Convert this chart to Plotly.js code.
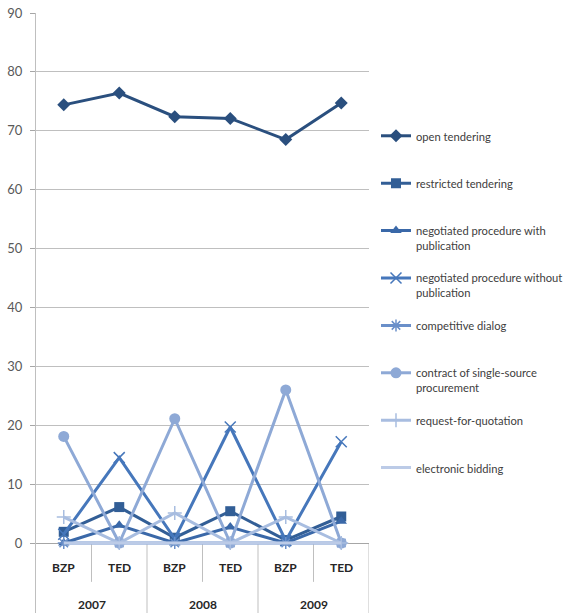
<!DOCTYPE html>
<html>
<head>
<meta charset="utf-8">
<script src="https://cdn.plot.ly/plotly-3.0.1.min.js"></script>
<style>
  html, body { margin: 0; padding: 0; overflow: hidden; background: #ffffff; }
  #chart { width: 567px; height: 613px; }
</style>
</head>
<body>
<div id="chart"></div>
<script>
// Share (%) of contract award procedures, BZP vs TED notices, 2007-2009
const categories = ['BZP', 'TED', 'BZP', 'TED', 'BZP', 'TED'];
const years = ['2007', '2008', '2009'];

const seriesNames = [
  'open tendering',
  'restricted tendering',
  'negotiated procedure with<br>publication',
  'negotiated procedure without<br>publication',
  'competitive dialog',
  'contract of single-source<br>procurement',
  'request-for-quotation',
  'electronic bidding'
];

const openTendering        = [74.4, 76.4, 72.4, 72.1, 68.5, 74.7];
const restrictedTendering  = [1.9, 6.1, 0.9, 5.4, 0.5, 4.5];
const negotiatedWithPub    = [0, 3.0, 0, 2.7, 0, 3.7];
const negotiatedWithoutPub = [1.5, 14.5, 0.7, 19.7, 0.4, 17.2];
const competitiveDialog    = [0, 0, 0, 0, 0, 0];
const singleSource         = [18.1, 0, 21.1, 0, 26.0, 0];
const requestForQuotation  = [4.4, 0, 5.1, 0, 4.4, 0];
const electronicBidding    = [0, 0, 0, 0, 0, 0];

const yTicks = [0, 10, 20, 30, 40, 50, 60, 70, 80, 90];

const seriesValues = [
  openTendering, restrictedTendering, negotiatedWithPub, negotiatedWithoutPub,
  competitiveDialog, singleSource, requestForQuotation, electronicBidding
];

// Monochrome blue palette, dark to light
const colors = ['#2a4f7e', '#325e96', '#3a68a8', '#4677bb', '#6a8fc9', '#8ea9d6', '#a8bde0', '#bccbe7'];
const symbols = ['diamond', 'square', 'triangle-up', 'x-thin-open', 'asterisk-open', 'circle', 'cross-thin-open', 'circle'];
const markerSizes = [10, 10, 10, 11, 10, 11, 10, 0];

const FONT = 'Lato, "Liberation Sans", Arial, sans-serif';

const xIdx = categories.map((_, i) => i);
const yMin = -11.886;

// plot area spans paper y 0..1 (pixel 613..13)
const toPaperY = py => (613 - py) / 600;

const traces = seriesValues.map((vals, i) => ({
  type: 'scatter',
  mode: markerSizes[i] > 0 ? 'lines+markers' : 'lines',
  x: xIdx,
  y: vals,
  name: seriesNames[i],
  legend: i === 0 ? 'legend' : 'legend' + (i + 1),
  line: { color: colors[i], width: 3 },
  marker: {
    symbol: symbols[i],
    size: markerSizes[i],
    color: colors[i],
    line: { color: colors[i], width: symbols[i].includes('open') ? 1.5 : 0 }
  },
  hoverinfo: 'x+y+name'
}));

const layout = {
  width: 567,
  height: 613,
  margin: { l: 36, r: 198, t: 13, b: 0, pad: 0, autoexpand: false },
  paper_bgcolor: '#ffffff',
  plot_bgcolor: '#ffffff',
  font: { family: FONT, size: 12, color: '#404040' },
  showlegend: true,
  xaxis: {
    type: 'linear',
    range: [-0.5, 5.5],
    showgrid: false,
    zeroline: false,
    showticklabels: false,
    ticks: '',
    showline: false,
    fixedrange: true
  },
  yaxis: {
    range: [yMin, 90],
    tickmode: 'array',
    tickvals: yTicks,
    ticktext: yTicks.map(String),
    ticks: 'outside',
    ticklen: 5,
    tickcolor: '#a6a6a6',
    tickfont: { family: FONT, size: 13, color: '#595959' },
    ticklabelstandoff: 5,
    showgrid: true,
    gridcolor: '#bfbfbf',
    gridwidth: 1,
    zeroline: true,
    zerolinecolor: '#a6a6a6',
    zerolinewidth: 1,
    showline: true,
    linecolor: '#bfbfbf',
    linewidth: 1,
    fixedrange: true
  },
  shapes: [],
  annotations: []
};

// Category separators beneath the axis: short ones inside a year, long ones between years
categories.forEach((_, i) => {
  const between = i + 0.5;
  const endOfYear = (i % 2) === 1;
  layout.shapes.push({
    type: 'line', xref: 'x', yref: 'y', layer: 'below',
    x0: between, x1: between, y0: 0, y1: endOfYear ? yMin : -6.6,
    line: { color: '#bfbfbf', width: 1 }
  });
});

// Inner (source) labels and outer (year) labels
categories.forEach((c, i) => {
  layout.annotations.push({
    xref: 'x', yref: 'y', x: i, y: -4.2, text: c, showarrow: false,
    font: { family: FONT, size: 12, color: '#262626', weight: 'bold' },
    xanchor: 'center', yanchor: 'middle'
  });
});
years.forEach((yr, j) => {
  layout.annotations.push({
    xref: 'x', yref: 'y', x: 2 * j + 0.5, y: -10.5, text: yr, showarrow: false,
    font: { family: FONT, size: 12, color: '#262626', weight: 'bold' },
    xanchor: 'center', yanchor: 'middle'
  });
});

// One legend per series, stacked at an even pitch
const legendTop = 137, legendStep = 47.4;
seriesNames.forEach((_, i) => {
  const key = i === 0 ? 'legend' : 'legend' + (i + 1);
  layout[key] = {
    x: 1.021,
    xanchor: 'left',
    y: toPaperY(legendTop + i * legendStep - 15),
    yanchor: 'top',
    valign: 'top',
    bgcolor: 'rgba(0,0,0,0)',
    borderwidth: 0,
    itemwidth: 30,
    font: { family: FONT, size: 11.2, color: '#404040' }
  };
});

Plotly.newPlot('chart', traces, layout, { displayModeBar: false, staticPlot: true });
</script>
</body>
</html>
